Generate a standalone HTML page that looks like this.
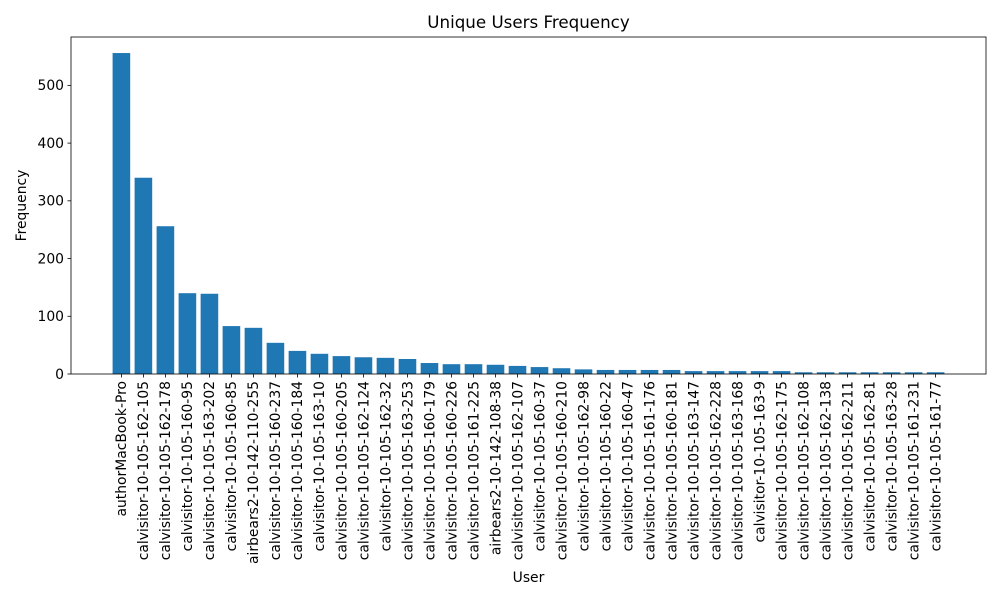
<!DOCTYPE html>
<html><head><meta charset="utf-8"><style>
body{margin:0;background:#fff}
svg{display:block;font-family:"DejaVu Sans","Liberation Sans",sans-serif}
</style></head><body>
<svg id="chart" width="1000" height="600" viewBox="0 0 1000 600"></svg>
<script>
const categories=["authorMacBook-Pro","calvisitor-10-105-162-105","calvisitor-10-105-162-178","calvisitor-10-105-160-95","calvisitor-10-105-163-202","calvisitor-10-105-160-85","airbears2-10-142-110-255","calvisitor-10-105-160-237","calvisitor-10-105-160-184","calvisitor-10-105-163-10","calvisitor-10-105-160-205","calvisitor-10-105-162-124","calvisitor-10-105-162-32","calvisitor-10-105-163-253","calvisitor-10-105-160-179","calvisitor-10-105-160-226","calvisitor-10-105-161-225","airbears2-10-142-108-38","calvisitor-10-105-162-107","calvisitor-10-105-160-37","calvisitor-10-105-160-210","calvisitor-10-105-162-98","calvisitor-10-105-160-22","calvisitor-10-105-160-47","calvisitor-10-105-161-176","calvisitor-10-105-160-181","calvisitor-10-105-163-147","calvisitor-10-105-162-228","calvisitor-10-105-163-168","calvisitor-10-105-163-9","calvisitor-10-105-162-175","calvisitor-10-105-162-108","calvisitor-10-105-162-138","calvisitor-10-105-162-211","calvisitor-10-105-162-81","calvisitor-10-105-163-28","calvisitor-10-105-161-231","calvisitor-10-105-161-77"];
const values=[556,340,256,140,139,83,80,54,40,35,31,29,28,26,19,17,17,16,14,12,10,8,7,7,7,7,5,5,5,5,5,3,3,3,3,3,3,3];
const yTicks=[0,100,200,300,400,500];
const svg=document.getElementById('chart');
const NS='http://www.w3.org/2000/svg';
const L=71,R=986,T=37,B=374;
const n=categories.length;
const xmin=-0.4-0.05*(n-0.2),xmax=n-0.6+0.05*(n-0.2);
const ymax=Math.max(...values)*1.05;
const x=v=>L+(v-xmin)/(xmax-xmin)*(R-L);
const y=v=>B-v/ymax*(B-T);
function mk(tag,attrs,parent){const e=document.createElementNS(NS,tag);for(const k in attrs)e.setAttribute(k,attrs[k]);(parent||svg).appendChild(e);return e;}
const bw=x(0.8)-x(0);
values.forEach((v,i)=>{
 const r=mk('rect',{x:x(i)-bw/2,y:y(v),width:bw,height:B-y(v),fill:'#1f77b4'});
 
 
 mk('line',{x1:x(i),x2:x(i),y1:B,y2:B+3.5,stroke:'#000','stroke-width':0.8});
 const t=mk('text',{x:0,y:0,transform:`translate(${x(i)+4.8},${B+7}) rotate(-90)`,'text-anchor':'end','font-size':13.9,fill:'#000'});
 t.textContent=categories[i];
 
 
});
yTicks.forEach(v=>{
 mk('line',{x1:L-3.5,x2:L,y1:y(v),y2:y(v),stroke:'#000','stroke-width':0.8});
 const t=mk('text',{x:L-7,y:y(v)+4.8,'text-anchor':'end','font-size':13.9});
 t.textContent=v;
 
 
});
const f=mk('rect',{x:L,y:T,width:R-L,height:B-T,fill:'none',stroke:'#000','stroke-width':0.8});


const ti=mk('text',{x:(L+R)/2,y:28,'text-anchor':'middle','font-size':16.7});ti.textContent='Unique Users Frequency';


const xl=mk('text',{x:(L+R)/2,y:582,'text-anchor':'middle','font-size':13.9});xl.textContent='User';


const yl=mk('text',{x:0,y:0,transform:`translate(26,${(T+B)/2}) rotate(-90)`,'text-anchor':'middle','font-size':13.9});yl.textContent='Frequency';


</script>
</body></html>
